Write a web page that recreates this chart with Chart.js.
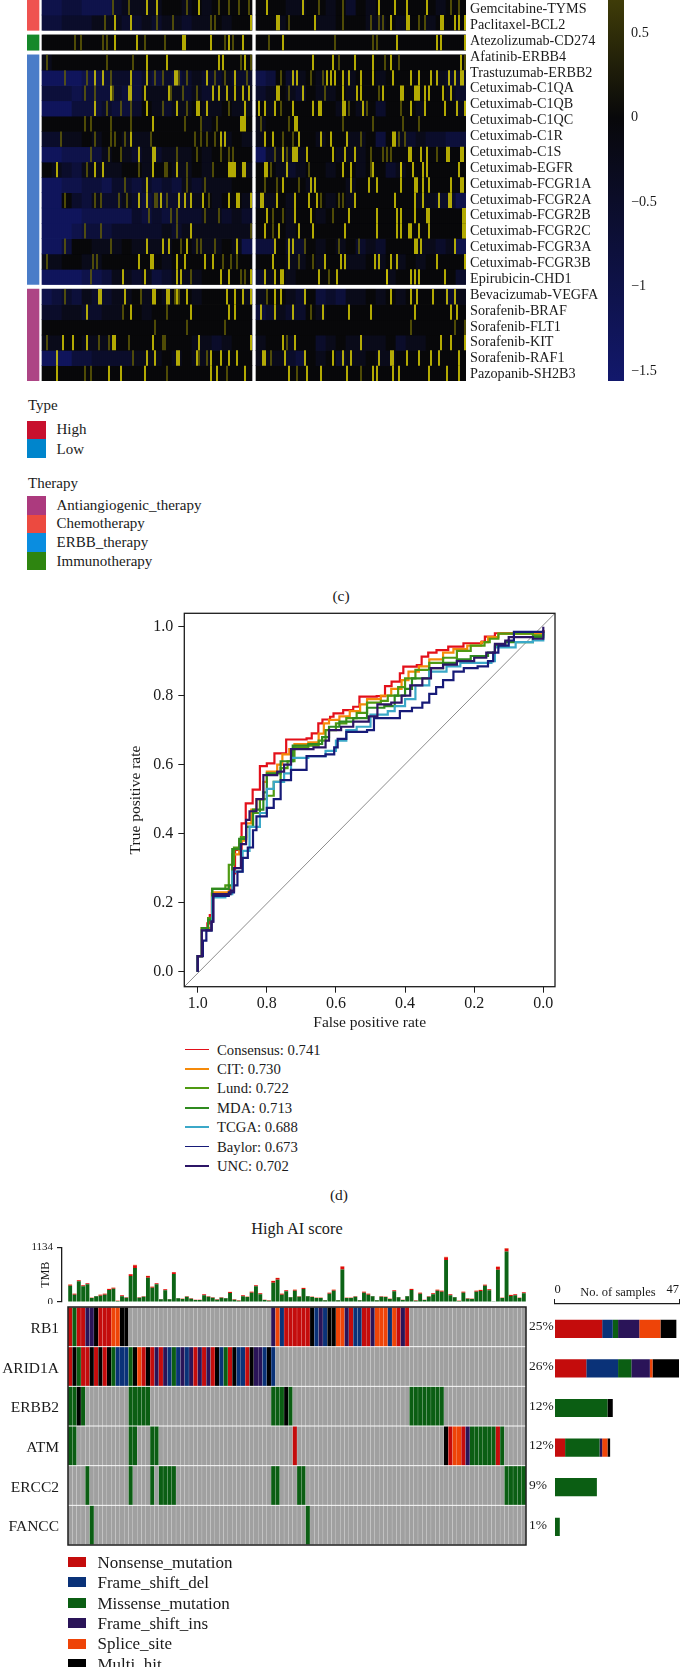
<!DOCTYPE html>
<html>
<head>
<meta charset="utf-8">
<title>Figure panels c, d, e</title>
<script src="https://cdn.jsdelivr.net/npm/chart.js@4/dist/chart.umd.min.js"></script>
<style>
  html, body { margin: 0; padding: 0; background: #fff; }
  #page { position: relative; width: 681px; height: 1667px; overflow: hidden; background: #fff; font-family: "Liberation Serif", serif; color: #1a1a1a; }
  #page canvas { position: absolute; display: block; }
  .txt { position: absolute; white-space: nowrap; line-height: 1; transform: translateY(-50%); }
  .box { position: absolute; }
</style>
</head>
<body>
<div id="page"></div>
<script>
// ---- heatmap (c) ----
const heatLabels = ["Gemcitabine-TYMS", "Paclitaxel-BCL2", "Atezolizumab-CD274", "Afatinib-ERBB4", "Trastuzumab-ERBB2", "Cetuximab-C1QA", "Cetuximab-C1QB", "Cetuximab-C1QC", "Cetuximab-C1R", "Cetuximab-C1S", "Cetuximab-EGFR", "Cetuximab-FCGR1A", "Cetuximab-FCGR2A", "Cetuximab-FCGR2B", "Cetuximab-FCGR2C", "Cetuximab-FCGR3A", "Cetuximab-FCGR3B", "Epirubicin-CHD1", "Bevacizumab-VEGFA", "Sorafenib-BRAF", "Sorafenib-FLT1", "Sorafenib-KIT", "Sorafenib-RAF1", "Pazopanib-SH2B3"];
const heatGroups = [0, 0, 1, 2, 2, 2, 2, 2, 2, 2, 2, 2, 2, 2, 2, 2, 2, 2, 3, 3, 3, 3, 3, 3];
const heatGroupColors = ["#ef5350", "#15882a", "#4a7cc8", "#ad4585"];
// background tone of each row, one digit for every 5 samples (digit x -0.25)
const heatBaseLeft = ["443344421111001010000", "332221112212112110100", "000000000000000000000", "100000000000000000000", "555544322323232122122", "333433323311112121111", "555333233201211011011", "000000000000000010000", "221101001110000000101", "554443101212111010000", "012311110010011010001", "554433422323231211100", "550231221232222101001", "555544444232322211212", "555433322222121111111", "553001110111100111014", "110011000000100000000", "555544311213211100000", "432312211010100100001", "221122110010000000000", "000000000000000000000", "110011100000000112100", "555332222111010110000", "000000000000000000000"];
const heatBaseRight = ["000110010201000000100", "001000110001101001000", "000000000000000000000", "000000000000000000000", "430210100100100000122", "210120110100000000012", "010000001010200010001", "100000000000000000000", "100000100110301212233", "521110001110000000000", "001210010010021000000", "000001000100000000000", "110100010100000011224", "000100100000000000000", "000100000000000000000", "330220101021200011214", "000110100110101010000", "210100000000010000002", "100120323110101000021", "321220100000000000000", "000000000000000000000", "100100210111102110000", "111230102110110000000", "000000000000000000000"];
const heatBrightLeft = [[52, 57, 78], [36, 44, 104], [36, 47, 70, 71, 84, 93, 100], [52, 62, 88, 90, 101], [26, 30, 44, 52, 66, 67, 82, 96], [34, 43, 44, 51, 63, 85, 88, 92, 96, 100, 103], [26, 52, 67, 77, 78, 82, 101], [55, 99, 100, 101], [44, 89, 91], [48, 55, 56], [7, 26, 30, 55, 67, 93, 94, 95, 96, 100, 101], [52], [48, 52, 59, 68, 71, 74, 80, 93, 97, 98, 104], [], [74], [52, 60, 63, 72, 97], [48, 54, 55, 67, 71, 81, 85], [40, 51, 67, 69, 89, 93, 104], [28, 29, 41, 55, 56, 62, 63, 67, 72, 92, 96, 100, 104], [22, 44, 74, 93, 96], [], [10, 15, 22, 35, 36, 55, 78, 104], [7, 52, 56, 67, 68, 77, 84, 89, 93, 97], [7, 33, 39, 51, 84, 87, 101]];
const heatMidLeft = [[35, 43, 72, 88, 93, 98, 103], [31, 57, 65, 84, 86], [16, 19, 30, 32, 51, 61, 91, 95], [2, 32, 45, 99, 104], [11, 22, 34, 56, 60, 68, 72, 86, 91, 102], [21, 26, 35, 64, 70, 77], [32, 39, 44, 60, 72, 93], [21, 24, 34, 44, 71, 79, 87], [9, 26, 34, 36, 41, 54, 76, 79, 82, 86], [24, 33, 39, 67, 77, 89, 93, 95], [22, 48, 61, 62, 72, 85], [41, 72, 81], [11, 26, 29, 38, 42, 56, 57, 62, 83], [53, 64, 67, 81, 88], [21, 29, 67, 104], [11, 34, 69, 77, 79, 86], [2, 25, 27, 90, 94, 97], [24, 74, 99, 101], [11, 49, 66, 68], [40, 62], [56, 72, 91], [2, 28, 33, 43, 60, 61], [45, 78, 82], [21, 24, 62, 92]];
const heatBrightRight = [[5, 23, 61, 69, 75, 85], [10, 11, 29, 67, 75, 76, 92, 93, 99, 101, 104], [13, 70, 90, 92, 104], [28, 38, 49, 58, 67, 102], [18, 20, 35, 37, 39, 43, 46, 52, 58, 68, 77, 81, 87, 90, 96, 99, 102, 103], [10, 11, 23, 43, 50, 52, 63, 72, 73, 79, 80, 81, 84, 86, 93, 97], [1, 4, 9, 18, 28, 31, 32, 43, 44, 53, 77, 84, 94, 100, 104], [19, 20], [4, 8, 21, 32, 37, 45, 68, 69], [13, 18, 19, 20, 25, 38, 44, 49, 76, 77, 82, 85, 95, 96, 102, 103], [4, 5, 15, 43, 47, 58, 72, 78, 83, 85, 101], [13, 27, 29, 47, 56, 60, 72, 79, 80, 83, 86, 97, 102, 103], [2, 3, 10, 19, 26, 30, 49, 69, 79, 83, 91, 96, 97], [5, 19, 27, 46, 60, 70, 72, 79, 85, 86, 103, 104], [4, 11, 21, 28, 44, 60, 70, 72, 76, 77, 81, 86, 103, 104], [9, 16, 18, 79, 80, 82, 99], [8, 16, 34, 42, 44, 59, 61, 67, 70, 90, 104], [4, 9, 12, 13, 31, 40, 65, 77, 79, 81, 94], [9, 12, 24, 67, 77, 80, 88, 95, 99], [2, 9, 18, 33, 46, 57, 79, 97, 100], [], [13, 19, 52, 92, 97, 104], [3, 4, 14, 24, 38, 43, 47, 61, 67, 68, 75, 81, 87, 91, 101], [16, 25, 32, 45, 58, 60, 68, 71, 86, 95, 101]];
const heatMidRight = [[31, 43, 97, 101], [16, 43, 57, 61, 63, 81, 84], [6, 39, 58, 60], [41, 64, 71, 104], [12, 27, 33], [16, 34, 61], [12, 46, 55, 72], [2, 16, 43, 58, 73, 81], [13, 18, 52, 71, 74], [9, 15, 57, 63, 65, 67, 90], [7, 26, 57, 72], [4, 10, 21], [32, 41, 43], [8, 13, 38], [8], [24, 41, 51], [21, 28], [36, 65], [5], [27], [77, 99, 104], [15], [7], [20, 52]];

const colorbarMin = -1.558;
const colorbarMax = 0.695;
const colorbarTicks = [0.5, 0, -0.5, -1, -1.5];

const typeLegend = ["High", "Low"];
const typeColors = ["#c8102e", "#0085cc"];
const therapyLegend = ["Antiangiogenic_therapy", "Chemotherapy", "ERBB_therapy", "Immunotherapy"];
const therapyColors = ["#ac3a7e", "#ec4a40", "#0a8de0", "#2e8510"];

// ---- ROC (d) ----
const rocNames = ["Consensus: 0.741", "CIT: 0.730", "Lund: 0.722", "MDA: 0.713", "TCGA: 0.688", "Baylor: 0.673", "UNC: 0.702"];
const rocColors = ["#e3101a", "#f58a0a", "#4f9a12", "#2f8a1f", "#3ba8c8", "#161a78", "#2c1566"];
const rocConsensus = [[1, 0], [1, .045], [.988, .045], [.988, .126], [.972, .14], [.965, .164], [.959, .227], [.906, .239], [.9, .285], [.892, .353], [.873, .43], [.861, .488], [.841, .528], [.82, .596], [.8, .604], [.778, .633], [.744, .673], [.685, .676], [.67, .691], [.651, .72], [.639, .731], [.617, .739], [.607, .749], [.579, .758], [.55, .768], [.532, .797], [.482, .799], [.458, .828], [.439, .841], [.415, .865], [.405, .884], [.366, .889], [.352, .913], [.333, .925], [.309, .932], [.275, .942], [.231, .952], [.178, .957], [.169, .971], [.14, .981], [.029, .984], [0, .99]];
const rocCit = [[1, 0], [1, .045], [.988, .045], [.988, .126], [.96, .15], [.958, .23], [.91, .245], [.9, .34], [.88, .38], [.86, .43], [.845, .47], [.83, .5], [.81, .55], [.8, .58], [.77, .6], [.755, .63], [.735, .645], [.72, .66], [.68, .665], [.65, .69], [.635, .72], [.62, .73], [.59, .74], [.56, .755], [.53, .775], [.51, .79], [.47, .8], [.44, .82], [.41, .845], [.39, .87], [.36, .885], [.33, .905], [.29, .925], [.26, .935], [.22, .945], [.18, .955], [.16, .97], [.13, .98], [.03, .98], [0, .99]];
const rocLund = [[1, 0], [1, .045], [.988, .045], [.988, .126], [.97, .155], [.958, .24], [.92, .25], [.91, .31], [.895, .36], [.875, .39], [.86, .42], [.84, .46], [.82, .5], [.8, .51], [.78, .55], [.76, .59], [.74, .61], [.72, .65], [.68, .655], [.65, .67], [.63, .7], [.6, .72], [.57, .735], [.54, .75], [.51, .78], [.47, .785], [.45, .8], [.42, .825], [.4, .85], [.37, .875], [.33, .895], [.29, .91], [.25, .93], [.21, .945], [.17, .955], [.155, .965], [.13, .98], [.03, .975], [0, .985]];
const rocMda = [[1, 0], [1, .045], [.988, .045], [.988, .126], [.97, .15], [.958, .24], [.91, .25], [.9, .355], [.88, .385], [.86, .42], [.84, .47], [.81, .52], [.8, .575], [.76, .61], [.725, .655], [.68, .66], [.64, .68], [.62, .71], [.59, .725], [.55, .735], [.51, .765], [.46, .77], [.43, .8], [.4, .82], [.38, .85], [.33, .88], [.29, .895], [.25, .905], [.21, .915], [.16, .925], [.14, .945], [.11, .955], [.03, .97], [0, .98]];
const rocTcga = [[1, 0], [1, .045], [.988, .045], [.988, .12], [.96, .145], [.958, .215], [.92, .225], [.9, .29], [.87, .35], [.85, .42], [.82, .46], [.8, .53], [.78, .55], [.75, .575], [.73, .62], [.68, .625], [.63, .64], [.6, .67], [.57, .7], [.54, .71], [.5, .745], [.45, .755], [.43, .77], [.4, .79], [.37, .83], [.33, .87], [.28, .885], [.24, .895], [.19, .895], [.15, .9], [.14, .94], [.08, .955], [.03, .96], [0, .985]];
const rocBaylor = [[1, 0], [1, .045], [.988, .045], [.985, .09], [.975, .12], [.96, .145], [.955, .22], [.91, .23], [.895, .25], [.885, .29], [.87, .33], [.855, .36], [.84, .41], [.83, .45], [.8, .475], [.78, .5], [.76, .555], [.73, .585], [.69, .585], [.685, .625], [.63, .63], [.605, .65], [.595, .675], [.57, .695], [.51, .7], [.49, .735], [.42, .735], [.415, .755], [.38, .765], [.35, .78], [.33, .805], [.31, .825], [.29, .845], [.26, .87], [.23, .88], [.19, .885], [.16, .9], [.145, .925], [.13, .945], [.1, .96], [.085, .985], [0, .99]];
const rocUnc = [[1, 0], [1, .045], [.988, .045], [.988, .12], [.96, .145], [.955, .225], [.905, .235], [.895, .3], [.875, .37], [.86, .44], [.85, .465], [.83, .5], [.81, .57], [.77, .58], [.75, .6], [.73, .645], [.665, .65], [.63, .67], [.62, .7], [.585, .71], [.55, .725], [.505, .74], [.48, .775], [.44, .78], [.41, .8], [.385, .83], [.35, .85], [.325, .88], [.29, .89], [.25, .9], [.2, .91], [.165, .925], [.14, .95], [.11, .96], [.1, .97], [.03, .965], [0, .985], [0, 1]];
const rocDiagonal = [[1.0388, -.0435], [-.0339, 1.0388]];

// ---- oncoplot (e) ----
const genes = ["RB1", "ARID1A", "ERBB2", "ATM", "ERCC2", "FANCC"];
const genePercent = ["25%", "26%", "12%", "12%", "9%", "1%"];
const sampleCount = 106;
const mutationNames = ["Nonsense_mutation", "Frame_shift_del", "Missense_mutation", "Frame_shift_ins", "Splice_site", "Multi_hit"];
const mutationColors = ["#c40c0c", "#0a3278", "#0b5e13", "#2a1458", "#ee4408", "#000000"];
// n nonsense, d del, m missense, i ins, s splice, h multi hit; [first sample, codes]
const oncoRb1 = [[0, "nmnniihnnnsshh"], [47, "isdnnnnnnhdidhhssinddnnisssdsnin"]];
const oncoArid1a = [[0, "nhmnnhnhnhmdddmhsnhninidmdidinininhdmnhddnhiidhd"]];
const oncoErbb2 = [[0, "mmhm"], [14, "mmmmm"], [47, "mmmhm"], [79, "mmmmmmmm"]];
const oncoAtm = [[0, "mm"], [14, "mm"], [19, "mm"], [52, "n"], [87, "hnssnimmmmmmnm"]];
const oncoErcc2 = [[4, "m"], [14, "m"], [19, "m"], [21, "mmmm"], [47, "mm"], [53, "mm"], [101, "mmmmm"]];
const oncoFancc = [[5, "m"], [55, "m"]];

const tmbMissense = [338, 152, 428, 324, 366, 83, 117, 131, 152, 248, 276, 21, 117, 90, 538, 704, 90, 110, 504, 297, 366, 55, 242, 55, 580, 76, 62, 110, 69, 41, 41, 138, 110, 90, 48, 90, 76, 186, 48, 28, 117, 104, 193, 324, 159, 41, 28, 400, 462, 152, 221, 97, 235, 110, 269, 117, 104, 83, 83, 35, 173, 235, 35, 676, 83, 83, 110, 35, 193, 152, 117, 35, 110, 104, 62, 221, 97, 41, 117, 248, 28, 173, 41, 110, 159, 235, 214, 869, 138, 97, 21, 193, 69, 62, 214, 228, 338, 242, 3, 669, 83, 1049, 124, 138, 83, 179];
const tmbNonsense = [21, 21, 21, 21, 21, 7, 7, 21, 21, 21, 21, 7, 21, 7, 35, 60, 7, 7, 35, 21, 21, 7, 21, 7, 35, 7, 7, 7, 7, 7, 7, 21, 7, 7, 7, 7, 7, 21, 7, 7, 21, 7, 21, 21, 21, 7, 7, 35, 35, 21, 21, 7, 21, 7, 21, 7, 7, 7, 7, 7, 21, 21, 7, 60, 7, 7, 7, 7, 21, 21, 7, 7, 7, 7, 7, 21, 7, 7, 7, 21, 7, 21, 7, 7, 21, 21, 21, 60, 21, 7, 7, 21, 7, 7, 21, 21, 21, 21, 0, 60, 7, 60, 21, 21, 7, 21];
const tmbSplice = [7, 4, 7, 4, 4, 2, 2, 2, 4, 4, 4, 1, 2, 2, 7, 10, 2, 2, 7, 4, 4, 1, 4, 1, 7, 2, 2, 2, 2, 1, 1, 4, 2, 2, 1, 2, 2, 4, 1, 1, 2, 2, 4, 4, 4, 1, 1, 7, 7, 4, 4, 2, 4, 2, 4, 2, 2, 2, 2, 1, 4, 4, 1, 7, 2, 2, 2, 1, 4, 4, 2, 1, 2, 2, 1, 4, 2, 1, 2, 4, 1, 4, 1, 2, 4, 4, 4, 10, 4, 2, 1, 4, 2, 1, 4, 4, 4, 4, 0, 7, 2, 10, 4, 4, 2, 4];

const barNonsense = [18, 12, 0, 4, 0, 0];
const barDel = [4, 12, 0, 0, 0, 0];
const barMissense = [2, 5, 20, 13, 16, 2];
const barIns = [8, 7, 0, 1, 0, 0];
const barSplice = [8, 1, 0, 2, 0, 0];
const barMulti = [6, 10, 2, 1, 0, 0];

const serif = "'Liberation Serif', serif";
const page = document.getElementById("page");
Chart.defaults.font.family = serif;
Chart.defaults.color = "#1a1a1a";
Chart.defaults.animation = false;
Chart.defaults.responsive = false;
Chart.defaults.plugins.legend.display = false;
Chart.defaults.plugins.tooltip.enabled = false;

function addCanvas(left, top, width, height) {
    let c = document.createElement("canvas");
    c.width = width;
    c.height = height;
    c.style.left = left + "px";
    c.style.top = top + "px";
    page.appendChild(c);
    return c.getContext("2d");
}

function addText(x, y, str, size, center) {
    let d = document.createElement("div");
    d.className = "txt";
    d.textContent = str;
    d.style.left = x + "px";
    d.style.top = y + "px";
    d.style.fontSize = size + "px";
    if (center) d.style.transform = "translate(-50%,-50%)";
    page.appendChild(d);
}

function addBox(x, y, w, h, color) {
    let d = document.createElement("div");
    d.className = "box";
    d.style.left = x + "px";
    d.style.top = y + "px";
    d.style.width = w + "px";
    d.style.height = h + "px";
    d.style.background = color;
    page.appendChild(d);
}

// keep a scale at a set size, without the margin tick labels ask for
function fixWidth(w) {
    return function (s) { s.width = w; s.paddingTop = 0; s.paddingBottom = 0; };
}
function fixHeight(h) {
    return function (s) { s.height = h; s.paddingLeft = 0; s.paddingRight = 0; };
}

// black box round the plot area
const framePlugin = {
    id: "frame",
    afterDraw(chart) {
        let a = chart.chartArea, ctx = chart.ctx;
        ctx.save();
        ctx.strokeStyle = "#1c1c1c";
        ctx.lineWidth = chart.options.plugins.frame.width;
        ctx.strokeRect(a.left, a.top, a.right - a.left, a.bottom - a.top);
        ctx.restore();
    }
};

function mix(c, t) {
    return "rgb(" + Math.round(8 + (c[0] - 8) * t) + "," + Math.round(8 + (c[1] - 8) * t) + "," + Math.round(10 + (c[2] - 10) * t) + ")";
}
function heatColor(v) {
    if (v < 0) return mix([18, 24, 108], Math.min(1, -v / 1.5));
    return mix([245, 232, 0], Math.min(1, v / 3));
}

function rowTop(r) {
    return r + 0.3 * heatGroups[r];
}

// heatmap: per row one dataset for the tone, one for the thin yellow stripes
let heatSets = [];
heatLabels.forEach(function (name, r) {
    let cells = [], colors = [];
    for (let i = 0; i < 105; i++) {
        cells.push({ x: i, y: [rowTop(r), rowTop(r) + 1] });
        colors.push(heatColor(-0.25 * Number(heatBaseLeft[r][Math.floor(i / 5)])));
        cells.push({ x: i + 107, y: [rowTop(r), rowTop(r) + 1] });
        colors.push(heatColor(-0.25 * Number(heatBaseRight[r][Math.floor(i / 5)])));
    }
    heatSets.push({ label: name, data: cells, backgroundColor: colors, order: 1 });

    let marks = [], markColors = [];
    function addMarks(list, shift, value) {
        list.forEach(function (i) {
            marks.push({ x: i + shift, y: [rowTop(r), rowTop(r) + 1] });
            markColors.push(heatColor(value));
        });
    }
    addMarks(heatMidLeft[r], 0, 1.2);
    addMarks(heatMidRight[r], 107, 1.2);
    addMarks(heatBrightLeft[r], 0, 2.9);
    addMarks(heatBrightRight[r], 107, 2.9);
    heatSets.push({ data: marks, backgroundColor: markColors, barThickness: 1.5, inflateAmount: 0, order: 0 });
});
heatGroupColors.forEach(function (color, g) {
    let rows = heatLabels.map((n, r) => r).filter(r => heatGroups[r] === g);
    heatSets.push({
        data: [{ x: -5, y: [rowTop(rows[0]), rowTop(rows[rows.length - 1]) + 1] }],
        backgroundColor: color,
        barThickness: 12
    });
});

new Chart(addCanvas(27, 0, 573, 381), {
    type: "bar",
    data: { datasets: heatSets },
    options: {
        layout: { padding: 0 },
        datasets: { bar: { grouped: false, barThickness: 2, borderWidth: 0 } },
        scales: {
            x: { type: "linear", min: -8, max: 211.5, offset: false, display: false },
            y: {
                type: "linear", min: 0.02, max: 24.9, reverse: true, position: "right",
                grid: { display: false, drawTicks: false },
                border: { display: false },
                ticks: { autoSkip: false, padding: 4, font: { size: 14.2 }, callback: (v, i) => heatLabels[i] },
                // the labels sit at an even step, they do not follow the group gaps
                afterBuildTicks: s => { s.ticks = heatLabels.map((n, r) => ({ value: .634 + 1.0366 * r })); },
                afterFit: fixWidth(134)
            }
        }
    }
});

// colour key of the heatmap
new Chart(addCanvas(600, 0, 81, 381), {
    type: "bar",
    data: {
        labels: [""],
        datasets: [{
            data: [[colorbarMin, colorbarMax]],
            barPercentage: 1,
            categoryPercentage: 1,
            backgroundColor: function (ctx) {
                let s = ctx.chart.scales.y;
                if (!s || !Number.isFinite(s.getPixelForValue(colorbarMin))) return "#000";
                let g = ctx.chart.ctx.createLinearGradient(0, s.getPixelForValue(colorbarMin), 0, s.getPixelForValue(colorbarMax));
                let zero = -colorbarMin / (colorbarMax - colorbarMin);
                g.addColorStop(0, heatColor(colorbarMin));
                g.addColorStop(zero, heatColor(0));
                g.addColorStop(1, heatColor(colorbarMax));
                return g;
            }
        }]
    },
    options: {
        layout: { padding: { left: 8 } },
        scales: {
            x: { display: false },
            y: {
                min: colorbarMin, max: colorbarMax, position: "right",
                grid: { display: false, drawTicks: false },
                border: { display: false },
                ticks: { padding: 7, font: { size: 14.2 }, callback: v => String(v).replace("-", "\u2212") },
                afterBuildTicks: s => { s.ticks = colorbarTicks.map(v => ({ value: v })); },
                afterFit: fixWidth(57)
            }
        }
    }
});

addText(28, 404.5, "Type", 15);
typeLegend.forEach(function (name, i) {
    addBox(27, 420.7 + i * 18.7, 19, 18.7, typeColors[i]);
    addText(56.5, 428.5 + i * 20.7, name, 15);
});
addText(28, 483, "Therapy", 15);
therapyLegend.forEach(function (name, i) {
    addBox(27, 496 + i * 18.6, 19, 18.6, therapyColors[i]);
    addText(56.5, 504.5 + i * 18.8, name, 15);
});
addText(341, 596, "(c)", 15.5, true);

// ROC curves
const rocSeries = [rocConsensus, rocCit, rocLund, rocMda, rocTcga, rocBaylor, rocUnc];
let rocSets = rocSeries.map(function (pts, i) {
    return {
        label: rocNames[i],
        data: pts.map(p => ({ x: p[0], y: p[1] })),
        borderColor: rocColors[i],
        borderWidth: 2.2,
        pointRadius: 0,
        stepped: "before",
        order: -i
    };
});
rocSets.push({
    data: rocDiagonal.map(p => ({ x: p[0], y: p[1] })),
    borderColor: "#8c8c8c",
    borderWidth: 1,
    pointRadius: 0,
    order: 10
});

new Chart(addCanvas(125, 600, 445, 433), {
    type: "line",
    data: { datasets: rocSets },
    options: {
        layout: { padding: { top: 13.3, right: 15 } },
        plugins: { frame: { width: 1.3 } },
        scales: {
            x: {
                type: "linear", min: -.0339, max: 1.0388, reverse: true,
                grid: { drawOnChartArea: false, tickLength: 6, color: "#1c1c1c" },
                border: { display: false },
                ticks: { stepSize: .2, includeBounds: false, padding: 1, maxRotation: 0, font: { size: 16 }, callback: v => v.toFixed(1) },
                title: { display: true, text: "False positive rate", font: { size: 15.5 }, padding: { bottom: 1 } },
                afterFit: fixHeight(46.3)
            },
            y: {
                type: "linear", min: -.0435, max: 1.0388,
                grid: { drawOnChartArea: false, tickLength: 6, color: "#1c1c1c" },
                border: { display: false },
                ticks: { stepSize: .2, includeBounds: false, padding: 5, font: { size: 16 }, callback: v => v.toFixed(1) },
                title: { display: true, text: "True positive rate", font: { size: 15.5 }, padding: { top: 2 } },
                afterFit: fixWidth(59.3)
            }
        }
    },
    plugins: [framePlugin]
});

rocNames.forEach(function (name, i) {
    addBox(185, 1049.5 + i * 19.48 - 1, 24, i === 0 || i === 5 ? 1 : 2, rocColors[i]);
    addText(217, 1049.5 + i * 19.48, name, 14.7);
});
addText(339, 1195, "(d)", 15.5, true);

// oncoplot
addText(297, 1229, "High AI score", 16.3, true);

new Chart(addCanvas(0, 1240, 530, 64), {
    type: "bar",
    data: {
        datasets: [
            { data: tmbMissense.map((v, i) => ({ x: i, y: v })), backgroundColor: "#0d6416" },
            { data: tmbNonsense.map((v, i) => ({ x: i, y: v })), backgroundColor: "#e00b0b" },
            { data: tmbSplice.map((v, i) => ({ x: i, y: v })), backgroundColor: "#f5a050" }
        ]
    },
    options: {
        layout: { padding: { top: 7.3, bottom: 2, right: 4 } },
        datasets: { bar: { barPercentage: .9, categoryPercentage: 1 } },
        scales: {
            x: { type: "linear", min: -1.89, max: 105.5, offset: false, stacked: true, display: false },
            y: {
                min: 0, max: 1134, stacked: true,
                grid: { drawOnChartArea: false, tickLength: 5, color: "#1c1c1c", lineWidth: 1.2 },
                border: { color: "#1c1c1c", width: 1.3 },
                ticks: { padding: 4, font: { size: 11 }, callback: v => String(v) },
                title: { display: true, text: "TMB", font: { size: 12 }, padding: { top: 39 } },
                afterBuildTicks: s => { s.ticks = [{ value: 0 }, { value: 1134 }]; },
                afterFit: fixWidth(62)
            }
        }
    }
});

const oncoRows = [oncoRb1, oncoArid1a, oncoErbb2, oncoAtm, oncoErcc2, oncoFancc];
const mutationCodes = "ndmish";
let oncoSets = oncoRows.map(function (runs, r) {
    let cells = [], colors = [];
    for (let i = 0; i < sampleCount; i++) {
        cells.push({ x: i, y: [r + .012, r + .988] });
        colors.push("#a0a0a0");
    }
    runs.forEach(function (run) {
        run[1].split("").forEach(function (code, k) {
            colors[run[0] + k] = mutationColors[mutationCodes.indexOf(code)];
        });
    });
    return { label: genes[r], data: cells, backgroundColor: colors };
});

new Chart(addCanvas(0, 1300, 560, 250), {
    type: "bar",
    data: { datasets: oncoSets },
    options: {
        layout: { padding: { top: 7, bottom: 5 } },
        plugins: { frame: { width: 1.5 } },
        datasets: { bar: { grouped: false, barPercentage: .95, categoryPercentage: 1 } },
        scales: {
            x: { type: "linear", min: -.5, max: sampleCount - .5, offset: false, display: false },
            y: {
                type: "linear", min: 0, max: 6, reverse: true,
                grid: { display: false, drawTicks: false },
                border: { display: false },
                ticks: { autoSkip: false, padding: 9, font: { size: 15.5 }, callback: (v, i) => genes[i] },
                afterBuildTicks: s => { s.ticks = genes.map((g, r) => ({ value: r + .55 })); },
                afterFit: fixWidth(68)
            },
            pct: {
                type: "linear", min: 0, max: 6, reverse: true, position: "right",
                grid: { display: false, drawTicks: false },
                border: { display: false },
                ticks: { autoSkip: false, padding: 3, font: { size: 13.5 }, callback: (v, i) => genePercent[i] },
                afterBuildTicks: s => { s.ticks = genes.map((g, r) => ({ value: r + .5 })); },
                afterFit: fixWidth(34)
            }
        }
    },
    plugins: [framePlugin]
});

// samples per gene, stacked by mutation type
const barSeries = [barNonsense, barDel, barMissense, barIns, barSplice, barMulti];
new Chart(addCanvas(548, 1280, 133, 268), {
    type: "bar",
    data: {
        datasets: barSeries.map(function (vals, k) {
            return {
                label: mutationNames[k],
                data: vals.map((v, r) => ({ x: v, y: r })),
                backgroundColor: mutationColors[k]
            };
        })
    },
    options: {
        indexAxis: "y",
        layout: { padding: { left: 6.5, right: 2, bottom: 1.4 } },
        datasets: { bar: { barPercentage: .92, categoryPercentage: 1 } },
        scales: {
            x: {
                type: "linear", min: 0, max: 47, stacked: true, position: "top",
                grid: { drawOnChartArea: false, tickLength: 5, color: "#1c1c1c" },
                border: { color: "#1c1c1c", width: 1.2 },
                ticks: { padding: 2, maxRotation: 0, align: "inner", font: { size: 12.5 } },
                afterBuildTicks: s => { s.ticks = [{ value: 0 }, { value: 47 }]; },
                afterFit: fixHeight(24)
            },
            y: { type: "linear", min: -.626, max: 5.5, offset: false, reverse: true, stacked: true, display: false }
        }
    }
});
addText(618, 1292, "No. of samples", 12.5, true);

mutationNames.forEach(function (name, i) {
    addBox(68, 1557 + i * 20.4, 18, 10, mutationColors[i]);
    addText(97.5, 1561.7 + i * 20.4, name, 17);
});
</script>
</body>
</html>
